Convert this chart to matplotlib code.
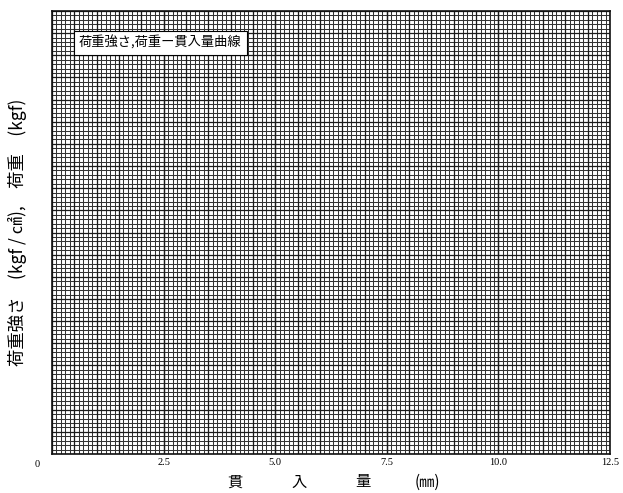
import matplotlib.pyplot as plt
from matplotlib.ticker import MultipleLocator

plt.rcParams['font.family'] = ['Noto Sans CJK JP', 'DejaVu Sans']

# axis ranges of the blank graph paper
x_max = 12.5
y_max = 100
x_ticks = [2.5, 5.0, 7.5, 10.0, 12.5]
x_tick_labels = ['2.5', '5.0', '7.5', '10.0', '12.5']

title_text = '荷重強さ,荷重ー貫入量曲線'
x_label_parts = ['貫', '入', '量', '(㎜)']
x_label_pos = [4.10, 5.54, 6.97, 8.41]
y_label = '荷重強さ　(kgf / ㎠),　荷重　(kgf)'

fig = plt.figure(figsize=(6.23, 4.93), dpi=100)
ax = fig.add_axes([0.0835, 0.079, 0.8957, 0.8987])

ax.set_xlim(0, x_max)
ax.set_ylim(0, y_max)

# fine grid every 0.1 mm / 1 unit, slightly heavier every 5 lines
ax.xaxis.set_minor_locator(MultipleLocator(0.1))
ax.yaxis.set_minor_locator(MultipleLocator(1))
ax.set_xticks(x_ticks)
ax.set_xticklabels(x_tick_labels, fontsize=7.5, family='Liberation Serif')
ax.set_yticks([y for y in range(0, y_max + 1, 5)])
ax.set_yticklabels([])
ax.grid(which='minor', color='#333333', linewidth=0.75)
ax.grid(which='major', color='#1a1a1a', linewidth=0.9)
for xv in [v * 0.5 for v in range(26)]:
    ax.axvline(xv, color='#1a1a1a', linewidth=0.9)
ax.tick_params(which='both', length=0, pad=3)
for s in ax.spines.values():
    s.set_linewidth(1.2)
    s.set_color('#111111')

ax.text(-0.33, -1.3, '0', fontsize=7.5, family='Liberation Serif',
        ha='center', va='top')

ax.text(0.6, 92.8, title_text, fontsize=9.5, ha='left', va='center',
        bbox=dict(facecolor='white', edgecolor='black', linewidth=0.8,
                  boxstyle='square,pad=0.4'))

for part, xp in zip(x_label_parts, x_label_pos):
    ax.text(xp, -6.3, part, fontsize=11, ha='center', va='center',
            clip_on=False)

ax.set_ylabel(y_label, fontsize=12.5)
ax.yaxis.set_label_coords(-0.045, 0.5)

fig.savefig('out.png', dpi=100)
